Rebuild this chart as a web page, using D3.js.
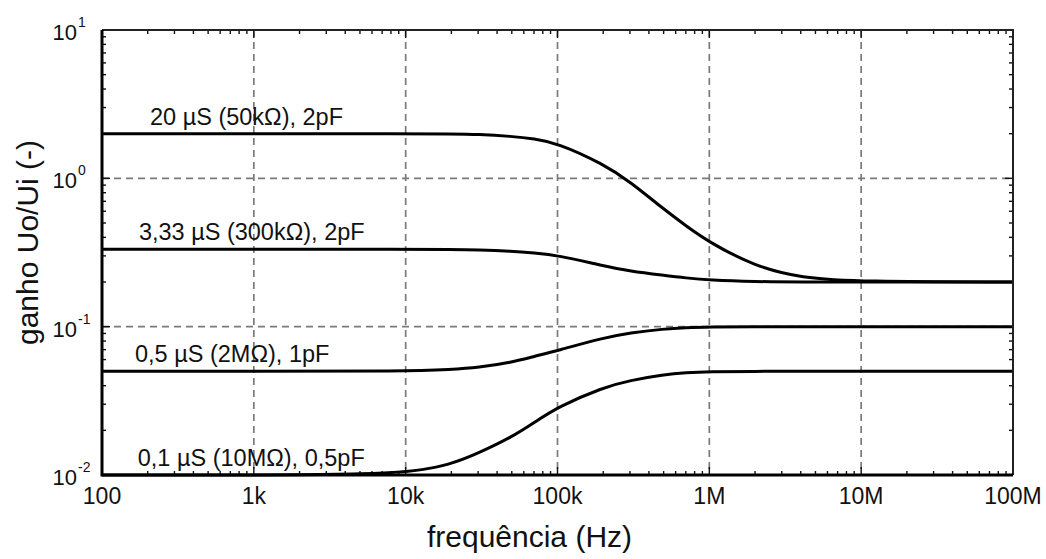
<!DOCTYPE html>
<html>
<head>
<meta charset="utf-8">
<script src="https://cdn.jsdelivr.net/npm/d3@7"></script>
<style>
body { margin: 0; background: #fff; }
text { font-family: "Liberation Sans", Arial, Helvetica, sans-serif; fill: #111; }
</style>
</head>
<body>
<div class="chart"></div>
<script>
const freqs = [100, 1e3, 1e4, 2e4, 3e4, 5e4, 7e4, 1e5, 2e5, 3e5, 5e5, 7e5, 1e6, 2e6, 4e6, 1e7, 1e8];

// gain Uo/Ui for each case
const gain20uS   = [2.0, 2.0, 2.0, 1.99, 1.98, 1.92, 1.85, 1.73, 1.25, 0.95, 0.62, 0.48, 0.37, 0.255, 0.213, 0.201, 0.2];
const gain333uS  = [0.333, 0.333, 0.333, 0.332, 0.33, 0.323, 0.314, 0.303, 0.257, 0.237, 0.222, 0.213, 0.206, 0.201, 0.2, 0.2, 0.2];
const gain05uS   = [0.05, 0.05, 0.05, 0.0515, 0.053, 0.0575, 0.063, 0.069, 0.084, 0.091, 0.0965, 0.0985, 0.0995, 0.1, 0.1, 0.1, 0.1];
const gain01uS   = [0.01, 0.01, 0.0101, 0.0118, 0.014, 0.018, 0.0225, 0.0287, 0.039, 0.0434, 0.0475, 0.049, 0.0497, 0.05, 0.05, 0.05, 0.05];

const seriesNames = ["20 \u00b5S (50k\u03a9), 2pF", "3,33 \u00b5S (300k\u03a9), 2pF", "0,5 \u00b5S (2M\u03a9), 1pF", "0,1 \u00b5S (10M\u03a9), 0,5pF"];
const seriesValues = [gain20uS, gain333uS, gain05uS, gain01uS];
// frequency where each label starts
const labelFreq = [207, 175, 165, 172];

const xTickValues = [1e2, 1e3, 1e4, 1e5, 1e6, 1e7, 1e8];
const xTickLabels = ["100", "1k", "10k", "100k", "1M", "10M", "100M"];
const yTickValues = [1e-2, 1e-1, 1e0, 1e1];
const yTickExp = ["-2", "-1", "0", "1"];

//setting margins, width, height
const margin = ({top: 30, right: 33, bottom: 84, left: 102}),
width = 1046,
height = 559;

const svg = d3.select('.chart')
    .append('svg')
    .attr('width', width)
    .attr('height', height);

const xScale = d3.scaleLog()
    .domain([1e2, 1e8])
    .range([margin.left, width - margin.right]);

const yScale = d3.scaleLog()
    .domain([1e-2, 1e1])
    .range([height - margin.bottom, margin.top]);

const x0 = margin.left, x1 = width - margin.right,
      y0 = height - margin.bottom, y1 = margin.top;

// minor ticks 2..9 in each decade
const minorX = [], minorY = [];
for (let e = 2; e < 8; e++) for (let k = 2; k <= 9; k++) minorX.push(k * Math.pow(10, e));
for (let e = -2; e < 1; e++) for (let k = 2; k <= 9; k++) minorY.push(k * Math.pow(10, e));

//grid lines (dashed, only at decades)
svg.append('g')
    .selectAll('line')
    .data(xTickValues.slice(1, -1))
    .join('line')
    .attr('x1', d => xScale(d)).attr('x2', d => xScale(d))
    .attr('y1', y1).attr('y2', y0)
    .attr('stroke', '#7a7a7a')
    .attr('stroke-width', 1.7)
    .attr('stroke-dasharray', '7,5');

svg.append('g')
    .selectAll('line')
    .data(yTickValues.slice(1, -1))
    .join('line')
    .attr('x1', x0).attr('x2', x1)
    .attr('y1', d => yScale(d)).attr('y2', d => yScale(d))
    .attr('stroke', '#7a7a7a')
    .attr('stroke-width', 1.7)
    .attr('stroke-dasharray', '7,5');

// inward ticks on all four sides
const tickG = svg.append('g').attr('stroke', '#111').attr('stroke-width', 1.4);
[[y0, -1], [y1, 1]].forEach(([yy, dir]) => {
    tickG.selectAll(null).data(minorX).join('line')
        .attr('x1', d => xScale(d)).attr('x2', d => xScale(d))
        .attr('y1', yy).attr('y2', yy + dir * 4);
    tickG.selectAll(null).data(xTickValues).join('line')
        .attr('x1', d => xScale(d)).attr('x2', d => xScale(d))
        .attr('y1', yy).attr('y2', yy + dir * 8);
});
[[x0, 1], [x1, -1]].forEach(([xx, dir]) => {
    tickG.selectAll(null).data(minorY).join('line')
        .attr('y1', d => yScale(d)).attr('y2', d => yScale(d))
        .attr('x1', xx).attr('x2', xx + dir * 4);
    tickG.selectAll(null).data(yTickValues).join('line')
        .attr('y1', d => yScale(d)).attr('y2', d => yScale(d))
        .attr('x1', xx).attr('x2', xx + dir * 8);
});

//create path line (smooth through the read points)
const line = d3.line()
    .x((d, i) => xScale(freqs[i]))
    .y(d => yScale(d))
    .curve(d3.curveBasis);

svg.append('g')
    .selectAll('path')
    .data(seriesValues)
    .join('path')
    .attr('fill', 'none')
    .attr('stroke', '#000')
    .attr('stroke-width', 3)
    .attr('stroke-linejoin', 'round')
    .attr('d', line);

// frame
svg.append('path')
    .attr('d', `M${x0},${y1}H${x1}V${y0}`)
    .attr('fill', 'none')
    .attr('stroke', '#222')
    .attr('stroke-width', 2);
svg.append('path')
    .attr('d', `M${x0},${y1}V${y0}H${x1}`)
    .attr('fill', 'none')
    .attr('stroke', '#000')
    .attr('stroke-width', 3);

// series labels
svg.append('g')
    .selectAll('text')
    .data(seriesNames)
    .join('text')
    .attr('x', (d, i) => xScale(labelFreq[i]))
    .attr('y', (d, i) => yScale(seriesValues[i][0]) - 9)
    .attr('font-size', 23.5)
    .text(d => d);

// x tick labels
svg.append('g')
    .selectAll('text')
    .data(xTickValues)
    .join('text')
    .attr('x', d => xScale(d))
    .attr('y', y0 + 29)
    .attr('text-anchor', 'middle')
    .attr('font-size', 23)
    .text((d, i) => xTickLabels[i]);

// y tick labels 10^n
svg.append('g')
    .selectAll('text')
    .data(yTickValues)
    .join('text')
    .attr('x', x0 - 25)
    .attr('y', d => yScale(d) + 10)
    .attr('text-anchor', 'end')
    .attr('font-size', 22)
    .text('10');
svg.append('g')
    .selectAll('text')
    .data(yTickValues)
    .join('text')
    .attr('x', x0 - 24)
    .attr('y', d => yScale(d) - 3)
    .attr('font-size', 14)
    .text((d, i) => yTickExp[i]);

// axis titles
svg.append('text')
    .attr('x', (x0 + x1) / 2 - 28)
    .attr('y', height - 12)
    .attr('text-anchor', 'middle')
    .attr('font-size', 30)
    .text('frequ\u00eancia (Hz)');

svg.append('text')
    .attr('transform', `translate(38,${(y0 + y1) / 2 - 10}) rotate(-90)`)
    .attr('text-anchor', 'middle')
    .attr('font-size', 30)
    .text('ganho Uo/Ui (-)');
</script>
</body>
</html>
